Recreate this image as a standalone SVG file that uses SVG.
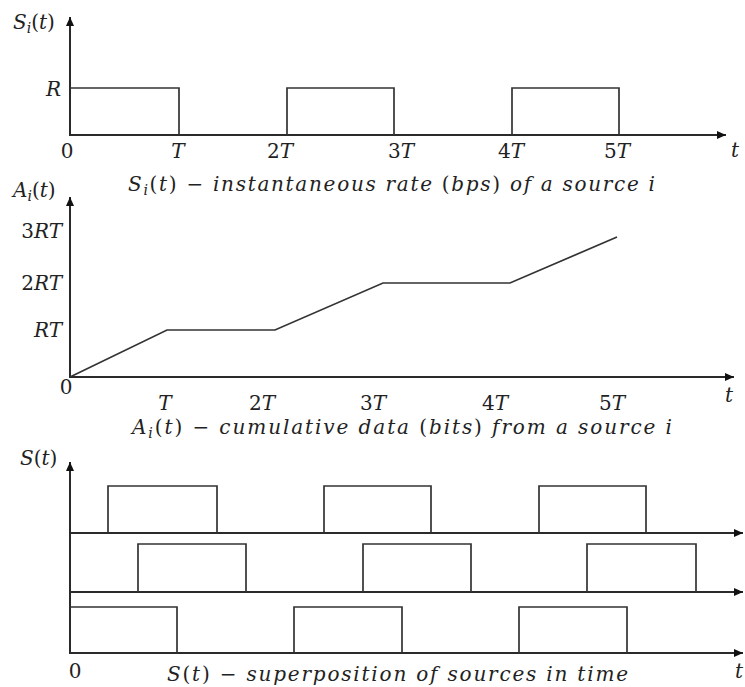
<svg xmlns="http://www.w3.org/2000/svg" width="745" height="687" viewBox="0 0 745 687">
  <style>
    .ax { stroke: #2a2a2a; stroke-width: 2; fill: none; }
    .sig { stroke: #333; stroke-width: 1.7; fill: none; stroke-linejoin: miter; }
    .lbl { font-family: "DejaVu Serif", "Liberation Serif", serif; font-size: 20px; fill: #222; }
    .it { font-style: italic; }
    .up { font-style: normal; }
    .cap { font-family: "DejaVu Serif", "Liberation Serif", serif; font-size: 20px; font-style: italic; fill: #222; }
    .sub { font-size: 14px; }
  </style>
  <defs>
    <marker id="arr" markerWidth="10" markerHeight="8" refX="9" refY="4" orient="auto" markerUnits="userSpaceOnUse">
      <path d="M0,0 L9,4 L0,8 Z" fill="#111"/>
    </marker>
  </defs>
  <rect width="745" height="687" fill="#fff"/>

  <!-- Panel 1: instantaneous rate S_i(t) -->
  <g id="rate-plot">
    <g id="rate-axes">
      <line class="ax" x1="70" y1="135" x2="70" y2="17" marker-end="url(#arr)"/>
      <line class="ax" x1="69" y1="135" x2="726" y2="135" marker-end="url(#arr)"/>
    </g>
    <polyline class="sig" points="70,88 179,88 179,135"/>
    <polyline class="sig" points="287,135 287,88 394,88 394,135"/>
    <polyline class="sig" points="512,135 512,88 619,88 619,135"/>
    <text class="lbl it" x="13" y="29">S<tspan class="sub" dy="4">i</tspan><tspan class="up" dy="-4">(</tspan>t<tspan class="up">)</tspan></text>
    <text class="lbl it" x="61" y="96" text-anchor="end">R</text>
    <text class="lbl" x="67" y="158" text-anchor="middle">0</text>
    <text class="lbl it" x="178" y="158" text-anchor="middle">T</text>
    <text class="lbl" x="280" y="158" text-anchor="middle">2<tspan class="it">T</tspan></text>
    <text class="lbl" x="401" y="158" text-anchor="middle">3<tspan class="it">T</tspan></text>
    <text class="lbl" x="511" y="158" text-anchor="middle">4<tspan class="it">T</tspan></text>
    <text class="lbl" x="617" y="158" text-anchor="middle">5<tspan class="it">T</tspan></text>
    <text class="lbl it" x="735" y="157" text-anchor="middle">t</text>
    <text class="cap" x="128" y="191" textLength="527" lengthAdjust="spacing">S<tspan class="sub" dy="4">i</tspan><tspan class="up" dy="-4">(</tspan>t<tspan class="up">)  −  </tspan>instantaneous rate <tspan class="up">(</tspan>bps<tspan class="up">)</tspan> of a source i</text>
  </g>

  <!-- Panel 2: cumulative data A_i(t) -->
  <g id="cumulative-plot">
    <g id="cumulative-axes">
      <line class="ax" x1="70" y1="377" x2="70" y2="197" marker-end="url(#arr)"/>
      <line class="ax" x1="69" y1="377" x2="734" y2="377" marker-end="url(#arr)"/>
    </g>
    <polyline class="sig" points="70,377 167,330 275,330 383,283 510,283 617,237"/>
    <text class="lbl it" x="13" y="197">A<tspan class="sub" dy="4">i</tspan><tspan class="up" dy="-4">(</tspan>t<tspan class="up">)</tspan></text>
    <text class="lbl" x="62" y="238" text-anchor="end">3<tspan class="it">RT</tspan></text>
    <text class="lbl" x="62" y="290" text-anchor="end">2<tspan class="it">RT</tspan></text>
    <text class="lbl it" x="62" y="337" text-anchor="end">RT</text>
    <text class="lbl" x="66" y="394" text-anchor="middle">0</text>
    <text class="lbl it" x="165" y="410" text-anchor="middle">T</text>
    <text class="lbl" x="262" y="410" text-anchor="middle">2<tspan class="it">T</tspan></text>
    <text class="lbl" x="373" y="410" text-anchor="middle">3<tspan class="it">T</tspan></text>
    <text class="lbl" x="495" y="410" text-anchor="middle">4<tspan class="it">T</tspan></text>
    <text class="lbl" x="612" y="410" text-anchor="middle">5<tspan class="it">T</tspan></text>
    <text class="lbl it" x="729" y="402" text-anchor="middle">t</text>
    <text class="cap" x="132" y="434" textLength="540" lengthAdjust="spacing">A<tspan class="sub" dy="4">i</tspan><tspan class="up" dy="-4">(</tspan>t<tspan class="up">)  −  </tspan>cumulative data <tspan class="up">(</tspan>bits<tspan class="up">)</tspan> from a source i</text>
  </g>

  <!-- Panel 3: superposition S(t) of three sources -->
  <g id="superposition-plot">
    <g id="superposition-axes">
      <line class="ax" x1="70" y1="653" x2="70" y2="462" marker-end="url(#arr)"/>
      <line class="ax" x1="69" y1="533" x2="743" y2="533" marker-end="url(#arr)"/>
      <line class="ax" x1="69" y1="592" x2="743" y2="592" marker-end="url(#arr)"/>
      <line class="ax" x1="69" y1="653" x2="743" y2="653" marker-end="url(#arr)"/>
    </g>
    <g id="source-1">
      <polyline class="sig" points="108,533 108,486 217,486 217,533"/>
      <polyline class="sig" points="324,533 324,486 431,486 431,533"/>
      <polyline class="sig" points="539,533 539,486 646,486 646,533"/>
    </g>
    <g id="source-2">
      <polyline class="sig" points="138,592 138,544 246,544 246,592"/>
      <polyline class="sig" points="363,592 363,544 471,544 471,592"/>
      <polyline class="sig" points="587,592 587,544 696,544 696,592"/>
    </g>
    <g id="source-3">
      <polyline class="sig" points="70,607 177,607 177,653"/>
      <polyline class="sig" points="294,653 294,607 402,607 402,653"/>
      <polyline class="sig" points="519,653 519,607 627,607 627,653"/>
    </g>
    <text class="lbl it" x="20" y="465">S<tspan class="up">(</tspan>t<tspan class="up">)</tspan></text>
    <text class="lbl" x="75" y="678" text-anchor="middle">0</text>
    <text class="lbl it" x="739" y="678" text-anchor="middle">t</text>
    <text class="cap" x="167" y="681" textLength="461" lengthAdjust="spacing">S<tspan class="up">(</tspan>t<tspan class="up">)  −  </tspan>superposition of sources in time</text>
  </g>
</svg>
